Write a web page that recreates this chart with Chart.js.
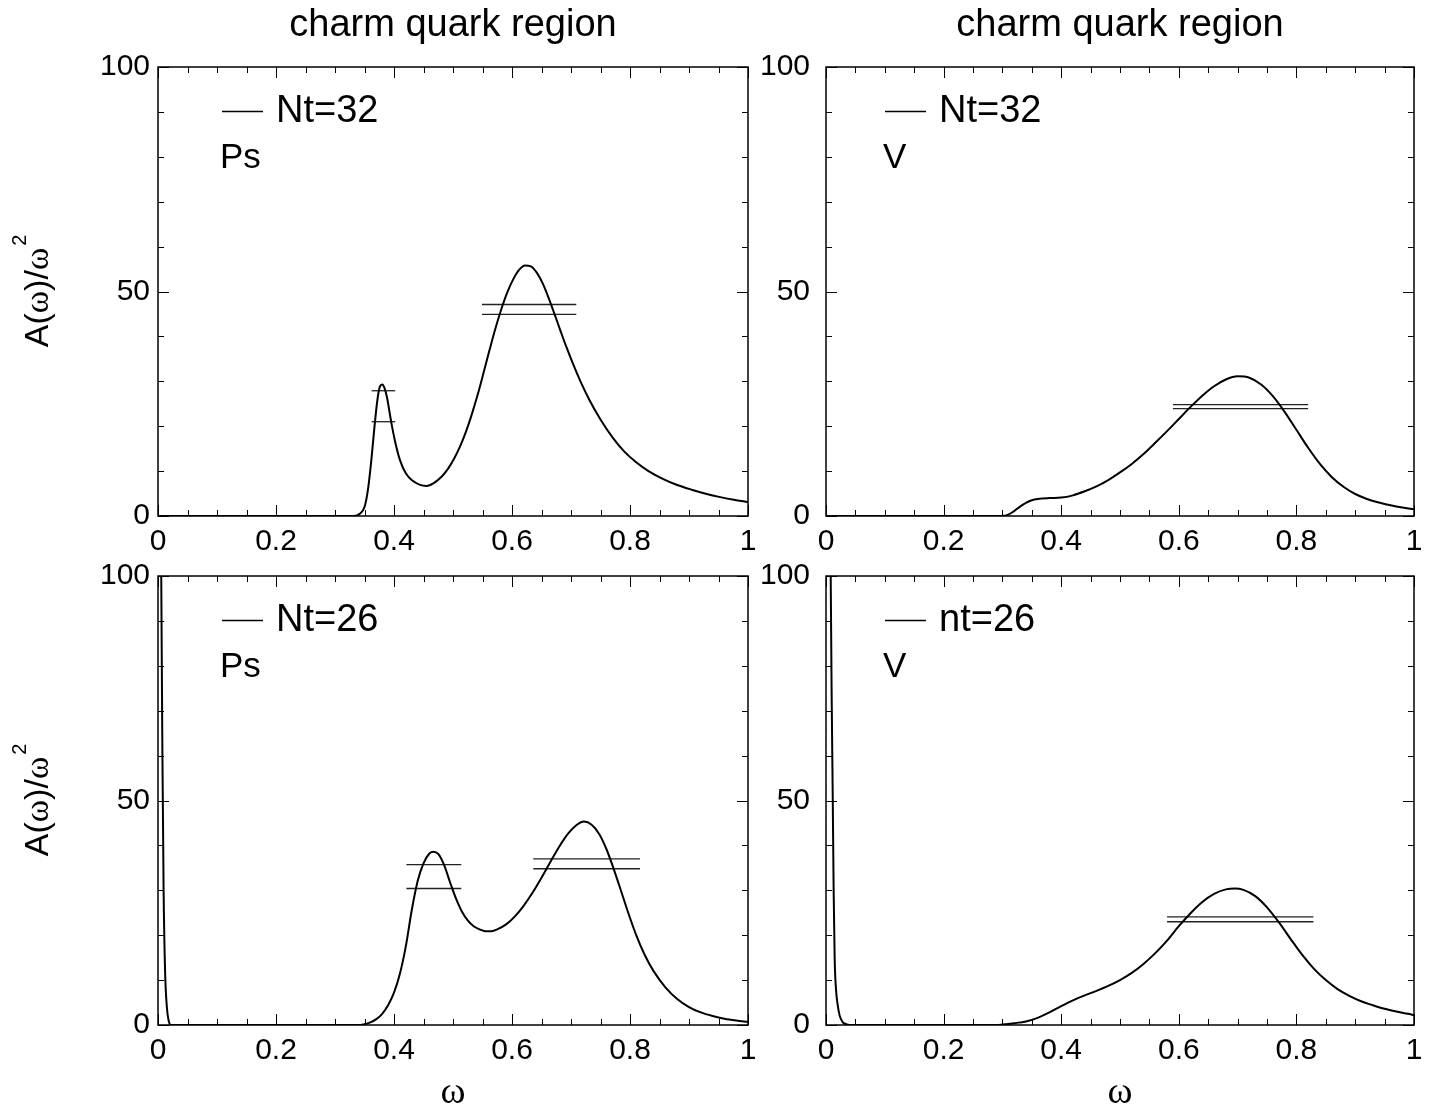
<!DOCTYPE html>
<html>
<head>
<meta charset="utf-8">
<script src="https://cdn.jsdelivr.net/npm/chart.js@4.4.1/dist/chart.umd.min.js"></script>
<style>
  html, body { margin: 0; padding: 0; background: #fff; }
  body { width: 1436px; height: 1113px; position: relative; overflow: hidden; }
  canvas { position: absolute; }
</style>
</head>
<body>
<canvas id="ps32" width="780" height="560" style="left:0;top:0"></canvas>
<canvas id="v32" width="736" height="560" style="left:700px;top:0"></canvas>
<canvas id="ps26" width="780" height="573" style="left:0;top:540px"></canvas>
<canvas id="v26" width="736" height="573" style="left:700px;top:540px"></canvas>
<script>
// spectral functions A(w)/w^2
const ps32X = [0, 0.1, 0.2, 0.3, 0.332, 0.342, 0.35, 0.356, 0.362, 0.367, 0.372, 0.376, 0.380, 0.384, 0.388, 0.392, 0.396, 0.402, 0.41, 0.42, 0.43, 0.443, 0.455, 0.468, 0.481, 0.492, 0.502, 0.512, 0.522, 0.532, 0.542, 0.552, 0.562, 0.572, 0.582, 0.592, 0.602, 0.612, 0.622, 0.632, 0.642, 0.652, 0.662, 0.672, 0.682, 0.692, 0.704, 0.717, 0.731, 0.75, 0.771, 0.79, 0.811, 0.83, 0.852, 0.88, 0.906, 0.93, 0.953, 0.976, 1.0];
const ps32Y = [0, 0, 0, 0, 0, 0.5, 2, 6, 13, 20, 26, 28.8, 29.3, 28.5, 26.5, 23.5, 20.4, 16.5, 12.5, 9.5, 8, 7, 6.7, 7.4, 8.8, 10.6, 12.8, 15.5, 18.8, 22.7, 27.1, 32, 37, 41.8, 46.1, 49.8, 52.7, 54.8, 55.8, 55.6, 54.2, 51.8, 48.6, 45, 41.3, 37.7, 33.7, 29.7, 25.9, 21.5, 17.4, 14.4, 11.9, 10.1, 8.5, 6.9, 5.8, 4.9, 4.2, 3.6, 3.1];
const ps32Bars = [[0.362, 0.402, 27.9], [0.362, 0.402, 21.0], [0.549, 0.709, 47.1], [0.549, 0.709, 44.9]];

const v32X = [0, 0.1, 0.2, 0.3, 0.31, 0.32, 0.33, 0.34, 0.35, 0.36, 0.38, 0.40, 0.42, 0.44, 0.46, 0.48, 0.50, 0.52, 0.54, 0.56, 0.58, 0.60, 0.62, 0.64, 0.66, 0.68, 0.70, 0.72, 0.74, 0.76, 0.78, 0.80, 0.82, 0.84, 0.86, 0.88, 0.90, 0.92, 0.94, 0.96, 0.98, 1.0];
const v32Y = [0, 0, 0, 0, 0.3, 1.1, 2.1, 2.9, 3.5, 3.8, 4.0, 4.1, 4.6, 5.5, 6.6, 8.0, 9.7, 11.6, 13.8, 16.3, 18.9, 21.6, 24.3, 26.8, 28.9, 30.4, 31.1, 30.8, 29.3, 26.7, 23.2, 19.2, 15.2, 11.6, 8.7, 6.5, 4.9, 3.8, 3.0, 2.4, 1.9, 1.5];
const v32Bars = [[0.590, 0.820, 24.8], [0.590, 0.820, 23.9]];

const ps26X = [0.004, 0.0055, 0.0075, 0.0095, 0.012, 0.015, 0.018, 0.022, 0.1, 0.2, 0.3, 0.34, 0.35, 0.36, 0.37, 0.38, 0.39, 0.40, 0.41, 0.42, 0.43, 0.44, 0.45, 0.46, 0.467, 0.475, 0.485, 0.495, 0.505, 0.515, 0.525, 0.535, 0.545, 0.555, 0.565, 0.575, 0.59, 0.605, 0.62, 0.635, 0.65, 0.665, 0.68, 0.695, 0.71, 0.722, 0.735, 0.748, 0.76, 0.772, 0.785, 0.798, 0.81, 0.825, 0.84, 0.86, 0.88, 0.9, 0.92, 0.94, 0.96, 0.98, 1.0];
const ps26Y = [150, 100, 60, 30, 12, 4, 1, 0, 0, 0, 0, 0, 0.2, 0.6, 1.3, 2.5, 4.4, 7.2, 11.4, 17.5, 25.5, 32, 36, 38.2, 38.6, 38.1, 35.6, 31.8, 28.2, 25.3, 23.3, 22, 21.3, 20.9, 20.9, 21.3, 22.4, 24.2, 26.6, 29.5, 32.8, 36.3, 39.7, 42.6, 44.6, 45.3, 44.6, 42.5, 39.2, 34.9, 29.8, 24.6, 20.2, 15.6, 12, 8.4, 5.8, 4, 2.8, 2, 1.4, 1.0, 0.7];
const ps26Bars = [[0.421, 0.514, 35.7], [0.421, 0.514, 30.4], [0.636, 0.817, 37.0], [0.636, 0.817, 34.8]];

const v26X = [0.006, 0.008, 0.0095, 0.0114, 0.013, 0.0148, 0.017, 0.0195, 0.023, 0.028, 0.034, 0.04, 0.1, 0.2, 0.29, 0.30, 0.32, 0.34, 0.36, 0.38, 0.40, 0.42, 0.44, 0.46, 0.48, 0.50, 0.52, 0.54, 0.56, 0.58, 0.60, 0.62, 0.64, 0.66, 0.68, 0.695, 0.71, 0.73, 0.75, 0.77, 0.79, 0.81, 0.83, 0.85, 0.87, 0.89, 0.91, 0.93, 0.95, 0.97, 0.99, 1.0];
const v26Y = [150, 100, 75, 51.6, 30, 14.5, 8, 4.8, 2.2, 0.7, 0.2, 0, 0, 0, 0, 0.1, 0.4, 0.8, 1.6, 2.8, 4.2, 5.5, 6.6, 7.6, 8.7, 10.0, 11.6, 13.6, 16.0, 18.8, 22.0, 24.9, 27.4, 29.2, 30.2, 30.4, 30.1, 28.7, 26.2, 22.9, 19.2, 15.6, 12.5, 10.0, 8.0, 6.5, 5.3, 4.4, 3.6, 3.0, 2.5, 2.2];
const v26Bars = [[0.580, 0.829, 24.1], [0.580, 0.829, 23.0]];

const xTicks = [0, 0.2, 0.4, 0.6, 0.8, 1];
const yTicks = [0, 50, 100];

const SANS = '"Liberation Sans", Arial, sans-serif';
const SERIF = '"Liberation Serif", "Times New Roman", serif';

// box around the plot with inward major/minor ticks
const framePlugin = {
    id: 'frame',
    afterDatasetsDraw(chart) {
        const { ctx, chartArea: a, scales: { x, y } } = chart;
        ctx.save();
        ctx.strokeStyle = '#000';
        ctx.lineWidth = 1.5;
        ctx.strokeRect(a.left, a.top, a.width, a.height);
        ctx.lineWidth = 1;
        ctx.beginPath();
        for (let i = 0; i <= 20; i++) {
            const px = Math.round(x.getPixelForValue(i * 0.05)) + 0.5;
            const len = i % 4 === 0 ? 11 : 6;
            ctx.moveTo(px, a.bottom); ctx.lineTo(px, a.bottom - len);
            ctx.moveTo(px, a.top); ctx.lineTo(px, a.top + len);
        }
        for (let i = 0; i <= 10; i++) {
            const py = Math.round(y.getPixelForValue(i * 10)) + 0.5;
            const len = i % 5 === 0 ? 11 : 6;
            ctx.moveTo(a.left, py); ctx.lineTo(a.left + len, py);
            ctx.moveTo(a.right, py); ctx.lineTo(a.right - len, py);
        }
        ctx.stroke();
        ctx.restore();
    }
};

// title, in-plot legend, channel tag and axis titles
const textPlugin = {
    id: 'panelText',
    afterDraw(chart, args, o) {
        const { ctx, chartArea: a } = chart;
        const lx = a.left + (o.dx || 0);
        ctx.save();
        ctx.fillStyle = '#000';
        ctx.strokeStyle = '#000';
        if (o.title) {
            ctx.font = '38px ' + SANS;
            ctx.textAlign = 'center';
            ctx.textBaseline = 'alphabetic';
            ctx.fillText(o.title, (a.left + a.right) / 2, a.top - 31);
        }
        const label = chart.data.datasets[0].label;
        ctx.lineWidth = 1.5;
        ctx.beginPath();
        ctx.moveTo(lx + 64, a.top + 44.5);
        ctx.lineTo(lx + 105, a.top + 44.5);
        ctx.stroke();
        ctx.textAlign = 'left';
        ctx.textBaseline = 'middle';
        ctx.font = '38px ' + SANS;
        ctx.fillText(label, lx + 118, a.top + 45);
        ctx.font = '35px ' + SANS;
        ctx.fillText(o.tag, lx + 62, a.top + 91);

        if (o.yTitle) {
            const cy = (a.top + a.bottom) / 2;
            ctx.translate(39, cy);
            ctx.rotate(-Math.PI / 2);
            ctx.textBaseline = 'middle';
            const parts = [['A(', SANS], ['\u03c9', SERIF], [')/', SANS], ['\u03c9', SERIF]];
            let w = 0;
            parts.forEach(p => { ctx.font = '34px ' + p[1]; w += ctx.measureText(p[0]).width; });
            let cx = -w / 2 - 6;
            parts.forEach(p => {
                ctx.font = '34px ' + p[1];
                ctx.fillText(p[0], cx, 0);
                cx += ctx.measureText(p[0]).width;
            });
            ctx.font = '20px ' + SANS;
            ctx.fillText('2', cx + 2, -19);
            ctx.setTransform(1, 0, 0, 1, 0, 0);
        }
        if (o.xTitle) {
            ctx.font = '38px ' + SERIF;
            ctx.textAlign = 'center';
            ctx.textBaseline = 'middle';
            ctx.fillText('\u03c9', (a.left + a.right) / 2, a.bottom + 68);
        }
        ctx.restore();
    }
};

function toPoints(xs, ys) {
    return xs.map((x, i) => ({ x, y: ys[i] }));
}

function makePanel(id, label, xs, ys, bars, layout, text) {
    const datasets = [{
        label,
        data: toPoints(xs, ys),
        borderColor: '#000',
        borderWidth: 2,
        pointRadius: 0,
        fill: false,
        cubicInterpolationMode: 'monotone',
    }];
    bars.forEach(b => datasets.push({
        label: 'err',
        data: [{ x: b[0], y: b[2] }, { x: b[1], y: b[2] }],
        borderColor: '#222',
        borderWidth: 1.3,
        pointRadius: 0,
        fill: false,
    }));

    return new Chart(document.getElementById(id), {
        type: 'line',
        data: { datasets },
        options: {
            responsive: false,
            animation: false,
            events: [],
            layout: { padding: { top: layout.top, right: layout.right, bottom: 0, left: 0 } },
            plugins: {
                legend: { display: false },
                tooltip: { enabled: false },
                panelText: text,
            },
            scales: {
                x: {
                    type: 'linear',
                    min: 0,
                    max: 1,
                    afterBuildTicks: s => { s.ticks = xTicks.map(v => ({ value: v })); },
                    afterFit: s => { s.height = layout.xh; },
                    ticks: {
                        color: '#000',
                        font: { family: SANS, size: 30 },
                        padding: 8,
                        maxRotation: 0,
                        autoSkip: false,
                        callback: v => String(Math.round(v * 10) / 10),
                    },
                    grid: { display: false, drawTicks: false },
                    border: { display: false },
                },
                y: {
                    type: 'linear',
                    min: 0,
                    max: 100,
                    afterBuildTicks: s => { s.ticks = yTicks.map(v => ({ value: v })); },
                    afterFit: s => { s.width = layout.yw; },
                    ticks: {
                        color: '#000',
                        font: { family: SANS, size: 30 },
                        padding: layout.ypad,
                        autoSkip: false,
                        callback: v => String(v),
                    },
                    grid: { display: false, drawTicks: false },
                    border: { display: false },
                },
            },
        },
        plugins: [framePlugin, textPlugin],
    });
}

makePanel('ps32', 'Nt=32', ps32X, ps32Y, ps32Bars,
    { top: 67, right: 32, xh: 44, yw: 158, ypad: 8 },
    { title: 'charm quark region', tag: 'Ps', yTitle: true });
makePanel('v32', 'Nt=32', v32X, v32Y, v32Bars,
    { top: 67, right: 22, xh: 44, yw: 126, ypad: 16 },
    { title: 'charm quark region', tag: 'V', dx: -5 });
makePanel('ps26', 'Nt=26', ps26X, ps26Y, ps26Bars,
    { top: 36, right: 32, xh: 88, yw: 158, ypad: 8 },
    { tag: 'Ps', yTitle: true, xTitle: true });
makePanel('v26', 'nt=26', v26X, v26Y, v26Bars,
    { top: 36, right: 22, xh: 88, yw: 126, ypad: 16 },
    { tag: 'V', xTitle: true, dx: -5 });
</script>
</body>
</html>
